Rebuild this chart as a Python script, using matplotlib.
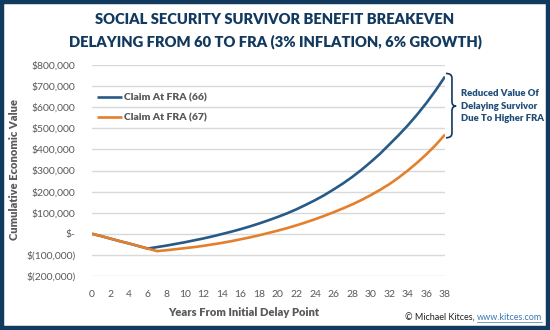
import matplotlib
matplotlib.use("Agg")
import matplotlib.pyplot as plt
from matplotlib.path import Path
from matplotlib.patches import PathPatch, Rectangle
from matplotlib.ticker import FuncFormatter

plt.rcParams['font.family'] = ['Lato', 'DejaVu Sans']

# years and cumulative value (dollars)
years = list(range(0, 39))
shared = [0, -11000, -23000, -35000, -46000, -58000, -70000]
fra66_after = [-63000, -56000, -48000, -40000, -31000, -22000, -12000, -1000, 10000,
               22000, 35000, 49000, 64000, 80000, 97000, 116000, 137000, 159000, 183000,
               210000, 238000, 269000, 303000, 340000, 379000, 423000, 467000, 514000,
               565000, 620000, 680000, 745000]
fra67_after = [-82000, -78000, -73000, -68000, -63000, -57000, -50000, -43000, -35000,
               -26000, -17000, -7000, 4000, 15000, 27000, 40000, 54000, 69000, 85000,
               102000, 120000, 139000, 160000, 183000, 208000, 235000, 266000, 300000,
               337000, 377000, 421000, 470000]
fra66 = shared + fra66_after
fra67 = shared + fra67_after

series_labels = ["Claim At FRA (66)", "Claim At FRA (67)"]
title = "SOCIAL SECURITY SURVIVOR BENEFIT BREAKEVEN\nDELAYING FROM 60 TO FRA (3% INFLATION, 6% GROWTH)"
note = "Reduced Value Of\nDelaying Survivor\nDue To Higher FRA"

navy = "#12395e"
blue = "#275a87"
orange = "#e47f2b"
gray = "#595959"

fig = plt.figure(figsize=(5.5, 3.3), dpi=100)
fig.patch.set_facecolor("white")

ax = fig.add_axes([92 / 550, 1 - 276 / 330, 353 / 550, 211 / 330])

ax.plot(years, fra66, color=blue, lw=1.9, label=series_labels[0], solid_capstyle="butt")
ax.plot(years, fra67, color=orange, lw=1.9, label=series_labels[1], solid_capstyle="butt")

ax.set_xlim(0, 38)
ax.set_ylim(-200000, 800000)
ax.set_xticks(range(0, 39, 2))
ax.set_yticks(range(-200000, 800001, 100000))


def money(v, pos):
    if v == 0:
        return "$-"
    if v < 0:
        return "$({:,.0f})".format(-v)
    return "${:,.0f}".format(v)


ax.yaxis.set_major_formatter(FuncFormatter(money))
ax.grid(axis="y", color="#d9d9d9", lw=1)
ax.set_axisbelow(True)
for s in ax.spines.values():
    s.set_visible(False)
ax.tick_params(length=0, labelsize=7.5, labelcolor=gray)
ax.tick_params(axis="x", pad=10)
ax.tick_params(axis="y", pad=12)

leg = ax.legend(loc="upper left", bbox_to_anchor=(0.015, 0.866), frameon=False,
                borderpad=0, borderaxespad=0, handlelength=2.4, handletextpad=0.15,
                labelspacing=1.0, prop={"size": 7.5, "weight": "heavy"})
for t in leg.get_texts():
    t.set_color(gray)

# brace on the right side
x0, x1, x2 = 38.1, 38.75, 39.2
yt, ym, yb = 760000, 605000, 455000
r = 22000
verts = [(x0, yt), (x1, yt), (x1, yt - r), (x1, ym + r), (x1, ym), (x2, ym),
         (x1, ym), (x1, ym - r), (x1, yb + r), (x1, yb), (x0, yb)]
codes = [Path.MOVETO, Path.CURVE3, Path.CURVE3, Path.LINETO, Path.CURVE3, Path.CURVE3,
         Path.CURVE3, Path.CURVE3, Path.LINETO, Path.CURVE3, Path.CURVE3]
ax.add_patch(PathPatch(Path(verts, codes), facecolor="none", edgecolor=navy, lw=1.2,
                       clip_on=False))
ax.text(39.7, 605000, note, ha="left", va="center", fontsize=6.8, fontweight="heavy",
        color="#1f4e79", linespacing=1.45, clip_on=False)

fig.text(0.5, 1 - 31 / 330, title, ha="center", va="center", fontsize=10.6,
         fontweight="heavy", color=navy, linespacing=1.65)
fig.text(15 / 550, 1 - 170 / 330, "Cumulative Economic Value", rotation=90,
         ha="center", va="center", fontsize=8, fontweight="heavy", color=gray)
fig.text(244 / 550, 1 - 313 / 330, "Years From Initial Delay Point", ha="center",
         va="center", fontsize=8, fontweight="heavy", color=gray)

# credit line with underlined link
url = fig.text(542 / 550, 1 - 318 / 330, "www.kitces.com", ha="right", va="center",
               fontsize=6.5, color="#3c78b4")
fig.canvas.draw()
bb = url.get_window_extent()
inv = fig.transFigure.inverted()
(ux0, uy0), (ux1, uy1) = inv.transform([(bb.x0, bb.y0), (bb.x1, bb.y1)])
fig.text(ux0, 1 - 318 / 330, "\u00a9 Michael Kitces, ", ha="right", va="center",
         fontsize=6.5, color="#222222")
fig.add_artist(plt.Line2D([ux0, ux1], [uy0 + 0.003, uy0 + 0.003], color="#3c78b4",
                          lw=0.5, transform=fig.transFigure))

# navy frame around the whole picture
fig.add_artist(Rectangle((2 / 550, 2 / 330), 1 - 4 / 550, 1 - 4 / 330,
                         transform=fig.transFigure, facecolor="none",
                         edgecolor=navy, lw=3.2, zorder=10))

fig.savefig("out.png", dpi=100)
